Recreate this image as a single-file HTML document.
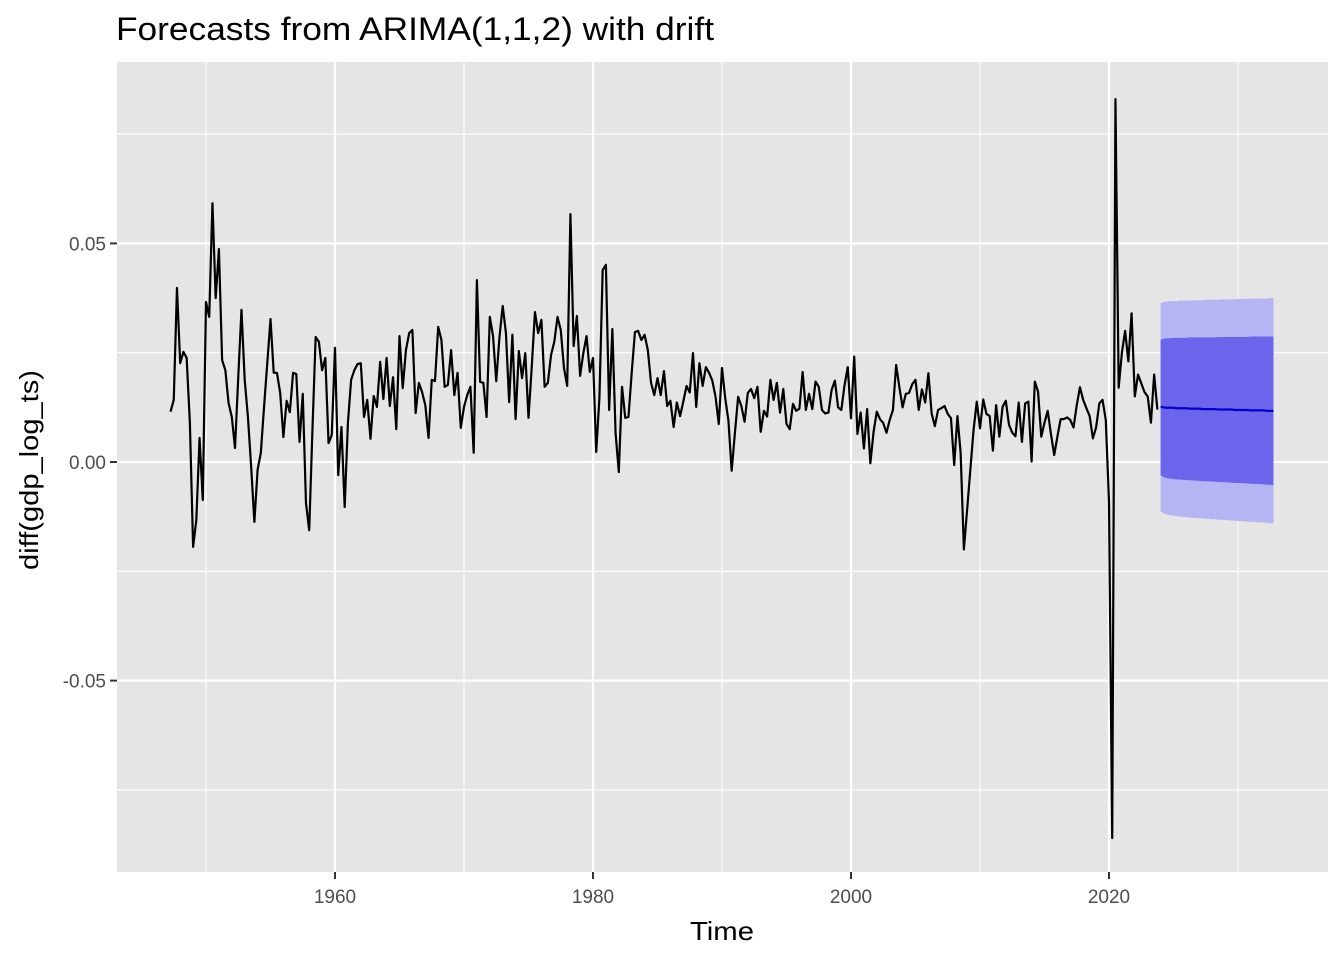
<!DOCTYPE html>
<html><head><meta charset="utf-8"><style>
html,body{margin:0;padding:0;background:#fff;}
svg{display:block;font-family:"Liberation Sans",Arial,sans-serif;}
</style></head><body>
<svg id="chart" width="1344" height="960" viewBox="0 0 1344 960" xmlns="http://www.w3.org/2000/svg">
<text x="116" y="40" font-size="32" textLength="598" lengthAdjust="spacingAndGlyphs" fill="#000">Forecasts from ARIMA(1,1,2) with drift</text>
<rect x="117" y="62" width="1211" height="810" fill="#e5e5e5"/>
<g id="grid"></g>
<g id="bands"></g>
<g id="series"></g>
<g id="axes"></g>
<text x="722" y="940" font-size="26" text-anchor="middle" textLength="64" lengthAdjust="spacingAndGlyphs" fill="#000">Time</text>
<text transform="translate(38,470) rotate(-90)" font-size="26" text-anchor="middle" textLength="200" lengthAdjust="spacingAndGlyphs" fill="#000">diff(gdp_log_ts)</text>
</svg>
<script>
const startYear = 1947.25;
const values = [11.5,14.2,39.8,22.6,25.2,23.8,8.9,-19.4,-13.3,5.5,-8.7,36.6,33.2,59.2,37.5,48.7,23.3,21.0,13.5,10.3,3.2,19.4,34.8,18.8,10.3,-1.1,-13.7,-1.8,2.1,12.6,22.6,32.7,20.4,20.4,15.8,5.7,14.0,11.4,20.4,20.1,4.6,15.6,-9.4,-15.6,7.3,28.6,27.5,21.0,23.8,4.3,6.2,26.1,-3.0,8.0,-10.3,8.9,18.8,21.0,22.4,22.6,10.3,14.2,5.3,15.1,12.6,22.9,14.4,23.8,12.8,19.4,7.5,28.8,16.9,25.6,29.5,30.2,11.2,18.1,
16.0,13.0,5.5,18.8,18.5,30.9,27.9,17.2,17.6,25.6,15.3,20.4,7.8,12.6,15.3,17.2,2.1,41.6,18.3,18.1,10.3,33.2,28.8,18.5,28.6,35.7,29.5,13.7,29.1,9.8,25.4,19.2,24.9,10.1,21.7,34.3,29.5,32.5,17.2,18.1,24.5,27.5,33.2,30.2,21.5,17.4,56.7,26.5,33.4,19.7,24.9,28.8,20.6,23.8,2.3,14.9,43.9,45.1,11.9,30.4,6.6,-2.3,17.2,10.1,10.3,20.4,29.7,30.0,27.9,29.1,25.6,18.1,15.3,19.2,15.3,20.8,12.8,
14.0,8.0,13.6,10.5,13.8,17.4,15.9,24.9,12.6,22.6,17.4,21.7,20.4,18.6,14.9,8.7,21.5,14.6,9.4,-2.0,6.6,14.9,12.8,9.2,15.8,16.7,14.6,17.2,6.9,11.7,10.4,18.8,14.2,18.1,11.3,16.7,8.7,7.5,13.3,11.7,12.2,20.6,11.9,15.6,12.1,18.4,17.2,11.9,11.1,11.3,16.5,18.6,12.5,11.9,17.6,21.7,10.0,24.1,6.4,11.3,3.1,12.1,-0.3,6.9,11.5,9.8,8.9,6.7,9.6,11.9,22.2,17.1,12.5,15.6,15.8,17.8,18.8,11.9,
16.6,13.6,20.3,11.1,8.2,11.9,12.3,12.8,11.0,10.0,-0.7,10.5,2.0,-20.0,-11.0,-1.8,7.3,13.8,7.7,14.3,11.0,10.5,2.6,13.0,5.8,12.6,14.0,8.5,6.7,5.9,13.6,4.6,13.4,13.8,0.1,18.4,16.1,5.8,9.0,11.7,6.4,1.6,5.8,9.8,9.8,10.2,9.6,7.9,13.0,17.1,14.2,12.3,10.5,5.4,7.9,13.4,14.2,9.6,
-9,-86,83,17,25,30,23,34,15,20,18,16,15,9,20,12];
const fcStart = 2024.0;
const fcMean = [12.6,12.5,12.4,12.4,12.4,12.3,12.3,12.3,12.3,12.2,12.2,12.2,12.2,12.1,12.1,12.1,12.1,12.1,12.0,12.0,12.0,12.0,12.0,11.9,11.9,11.9,11.9,11.9,11.8,11.8,11.8,11.8,11.8,11.7,11.7,11.7];
const fcHi80 = [28.0,28.2,28.3,28.3,28.4,28.4,28.4,28.4,28.4,28.5,28.5,28.5,28.5,28.5,28.5,28.5,28.5,28.5,28.6,28.6,28.6,28.6,28.6,28.6,28.6,28.6,28.6,28.6,28.7,28.7,28.7,28.7,28.7,28.7,28.7,28.7];
const fcLo80 = [-3.0,-3.5,-3.7,-3.8,-3.9,-4.0,-4.0,-4.1,-4.1,-4.2,-4.2,-4.3,-4.3,-4.4,-4.4,-4.4,-4.5,-4.5,-4.6,-4.6,-4.6,-4.7,-4.7,-4.8,-4.8,-4.8,-4.9,-4.9,-5.0,-5.0,-5.0,-5.1,-5.1,-5.2,-5.2,-5.3];
const fcHi95 = [36.3,36.6,36.7,36.8,36.8,36.8,36.9,36.9,36.9,36.9,37.0,37.0,37.0,37.0,37.1,37.1,37.1,37.1,37.1,37.2,37.2,37.2,37.2,37.2,37.3,37.3,37.3,37.3,37.3,37.4,37.4,37.4,37.4,37.4,37.5,37.5];
const fcLo95 = [-11.2,-11.8,-12.0,-12.2,-12.3,-12.4,-12.5,-12.6,-12.6,-12.7,-12.8,-12.8,-12.9,-12.9,-13.0,-13.0,-13.1,-13.1,-13.2,-13.2,-13.3,-13.3,-13.4,-13.4,-13.5,-13.5,-13.6,-13.6,-13.7,-13.7,-13.8,-13.8,-13.9,-13.9,-14.0,-14.0];
const yTicks = [-0.05,0,0.05];
const yTickLabels = ["-0.05","0.00","0.05"];
const yMinor = [-0.075,-0.025,0.025,0.075];
const xTicks = [1960,1980,2000,2020];
const xMinor = [1950,1970,1990,2010,2030];

const NS = "http://www.w3.org/2000/svg";
function X(t){ return 335 + (t-1960)*12.9; }
function Y(v){ return 462 - v*4372; }
function mk(tag, attrs, parent){
  const e = document.createElementNS(NS, tag);
  for (const k in attrs) e.setAttribute(k, attrs[k]);
  parent.appendChild(e); return e;
}
const grid = document.getElementById('grid');
const axes = document.getElementById('axes');
yMinor.forEach(v=>{
  const l = mk('line',{x1:117,x2:1328,y1:Y(v),y2:Y(v),stroke:'#fff','stroke-width':1.1},grid);
  
  
});
xMinor.forEach(t=>{
  const l = mk('line',{x1:X(t),x2:X(t),y1:62,y2:872,stroke:'#fff','stroke-width':1.1},grid);
  
  
});
yTicks.forEach((v,i)=>{
  const l = mk('line',{x1:117,x2:1328,y1:Y(v),y2:Y(v),stroke:'#fff','stroke-width':2.2},grid);
  
  
  const tk = mk('line',{x1:110,x2:117,y1:Y(v),y2:Y(v),stroke:'#333','stroke-width':2},axes);
  
  
  const tx = mk('text',{x:106,y:Y(v)+7,'font-size':19,'text-anchor':'end',fill:'#4d4d4d'},axes);
  tx.textContent = yTickLabels[i];
  
  
});
xTicks.forEach(t=>{
  const l = mk('line',{x1:X(t),x2:X(t),y1:62,y2:872,stroke:'#fff','stroke-width':2.2},grid);
  
  
  const tk = mk('line',{x1:X(t),x2:X(t),y1:872,y2:879,stroke:'#333','stroke-width':2},axes);
  
  
  const tx = mk('text',{x:X(t),y:903,'font-size':19,'text-anchor':'middle',fill:'#4d4d4d'},axes);
  tx.textContent = String(t);
  
  
});
function band(lo, hi, color, name){
  let d = '';
  hi.forEach((v,i)=>{ d += (i?'L':'M') + X(fcStart+i*0.25) + ',' + Y(v/1000); });
  for (let i=lo.length-1;i>=0;i--) d += 'L' + X(fcStart+i*0.25) + ',' + Y(lo[i]/1000);
  const p = mk('path',{d:d+'Z',fill:color,stroke:'none'},document.getElementById('bands'));
  
  
}
band(fcLo95, fcHi95, '#b5b5f4', 'forecast-95-interval');
band(fcLo80, fcHi80, '#6a65ea', 'forecast-80-interval');
let d = '';
values.forEach((v,i)=>{ d += (i?'L':'M') + X(startYear+i*0.25).toFixed(2) + ',' + Y(v/1000).toFixed(2); });
const series = document.getElementById('series');
const hist = mk('path',{d:d,fill:'none',stroke:'#000','stroke-width':2.2,'stroke-linejoin':'round'},series);


let dm = '';
fcMean.forEach((v,i)=>{ dm += (i?'L':'M') + X(fcStart+i*0.25) + ',' + Y(v/1000); });
const fm = mk('path',{d:dm,fill:'none',stroke:'#0000cc','stroke-width':2.2},series);


</script>
</body></html>
